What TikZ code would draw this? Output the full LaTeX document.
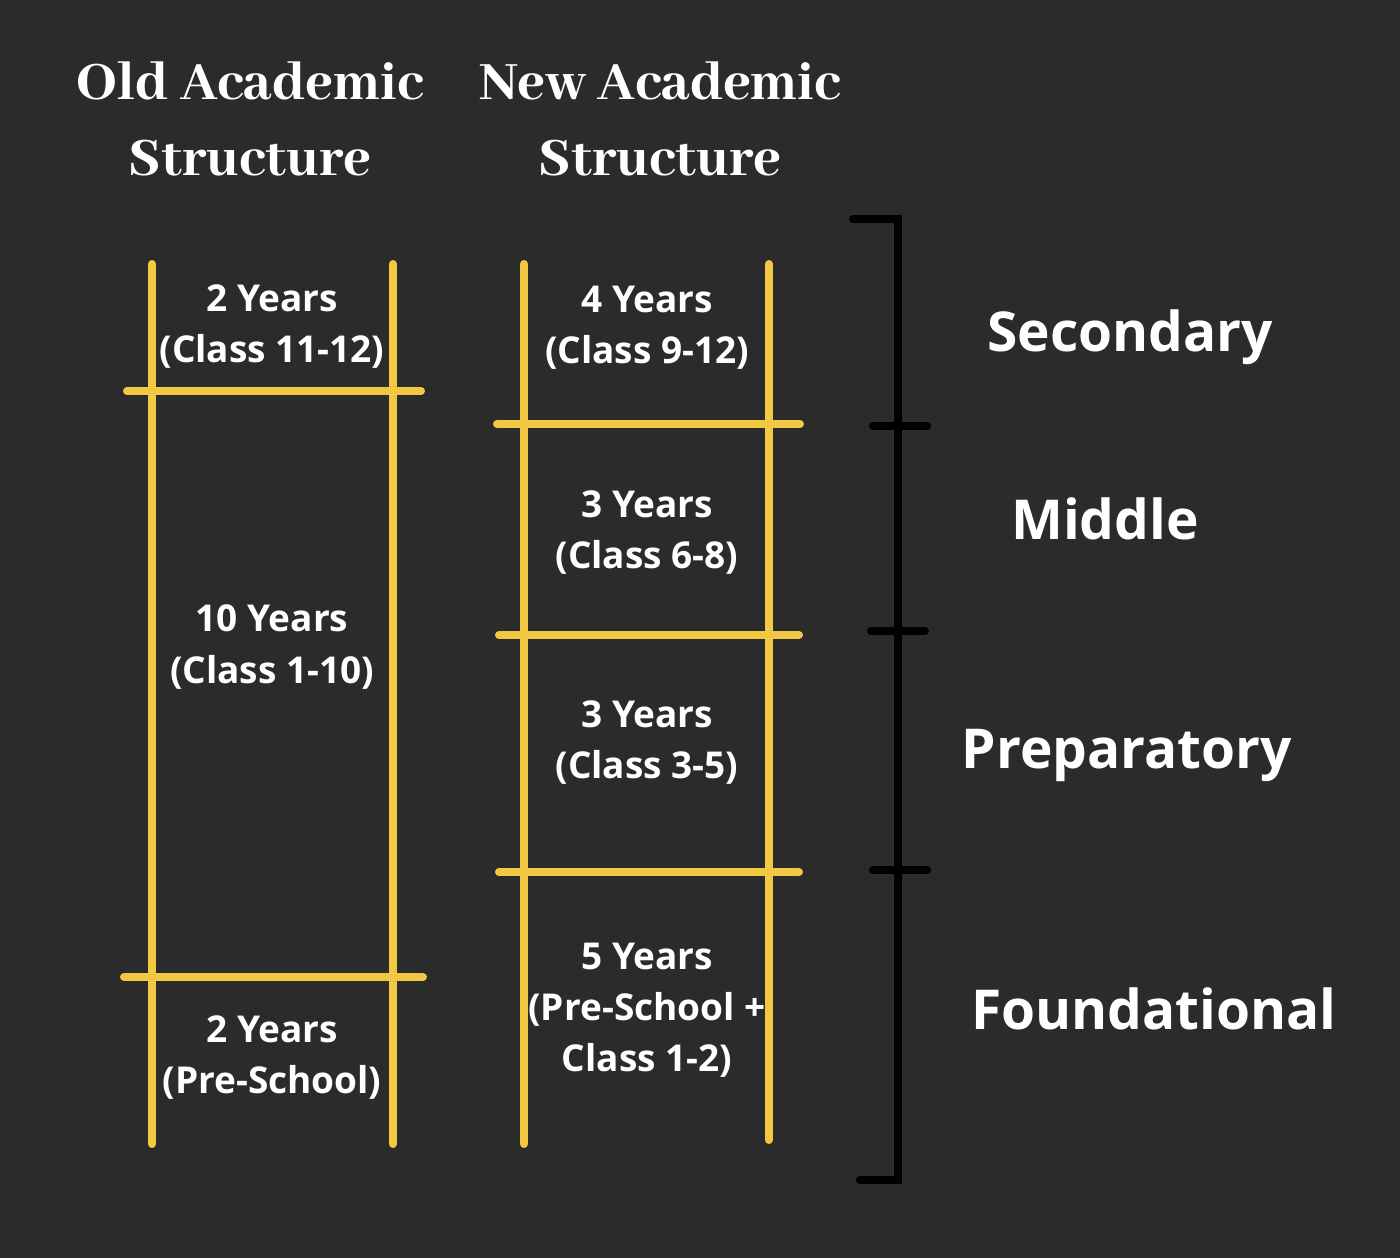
\documentclass[tikz,border=0pt]{standalone}
\usepackage{fontspec}
\setmainfont{Open Sans}
\newfontfamily\titlefont{Abhaya Libre ExtraBold}
\definecolor{bgdark}{RGB}{43,43,43}
\definecolor{rail}{RGB}{243,198,67}
\begin{document}
\begin{tikzpicture}[x=0.5pt,y=-0.5pt,
  railline/.style={rail,line width=4pt,line cap=round},
  bracketline/.style={black,line width=4pt,line cap=round,line join=miter},
  yearlabel/.style={text=white,align=center,font=\bfseries\fontsize{18.5}{25.5}\selectfont,inner sep=0pt},
  stagelabel/.style={text=white,font=\bfseries\fontsize{27.5}{33}\selectfont,inner sep=0pt},
  heading/.style={text=white,align=center,font=\titlefont\fontsize{29.7}{38}\selectfont,inner sep=0pt}]
  % background
  \fill[bgdark] (0,0) rectangle (1400,1258);
  \useasboundingbox (0,0) rectangle (1400,1258);

  % headings
  \node[heading] (oldtitle) at (250,119) {Old Academic\\Structure};
  \node[heading] (newtitle) at (660,119) {New Academic\\Structure};

  % old structure ladder
  \draw[railline] (152,264) -- (152,1144);
  \draw[railline] (393,264) -- (393,1144);
  \draw[railline] (127,391) -- (421,391);
  \draw[railline] (124,977) -- (423,977);

  % new structure ladder
  \draw[railline] (524,264) -- (524,1144);
  \draw[railline] (769,264) -- (769,1140);
  \draw[railline] (497,424) -- (800,424);
  \draw[railline] (499,635) -- (799,635);
  \draw[railline] (499,872) -- (799,872);

  % stage bracket
  \draw[bracketline] (853,219) -- (898,219) -- (898,1180) -- (860,1180);
  \draw[bracketline] (873,426) -- (927,426);
  \draw[bracketline] (871,631) -- (925,631);
  \draw[bracketline] (873,870) -- (927,870);

  % old structure labels
  \node[yearlabel] (o1) at (272,327) {2 Years\\(Class 11-12)};
  \node[yearlabel] (o2) at (272,647) {10 Years\\(Class 1-10)};
  \node[yearlabel] (o3) at (272,1058) {2 Years\\(Pre-School)};

  % new structure labels
  \node[yearlabel] (n1) at (647,328) {4 Years\\(Class 9-12)};
  \node[yearlabel] (n2) at (647,533) {3 Years\\(Class 6-8)};
  \node[yearlabel] (n3) at (647,743) {3 Years\\(Class 3-5)};
  \node[yearlabel] (n4) at (647,1010) {5 Years\\(Pre-School +\\Class 1-2)};

  % stage names
  \node[stagelabel] (s1) at (1130,337) {Secondary};
  \node[stagelabel] (s2) at (1105,519) {Middle};
  \node[stagelabel] (s3) at (1127,755) {Preparatory};
  \node[stagelabel] (s4) at (1154,1009) {Foundational};
\end{tikzpicture}
\end{document}
